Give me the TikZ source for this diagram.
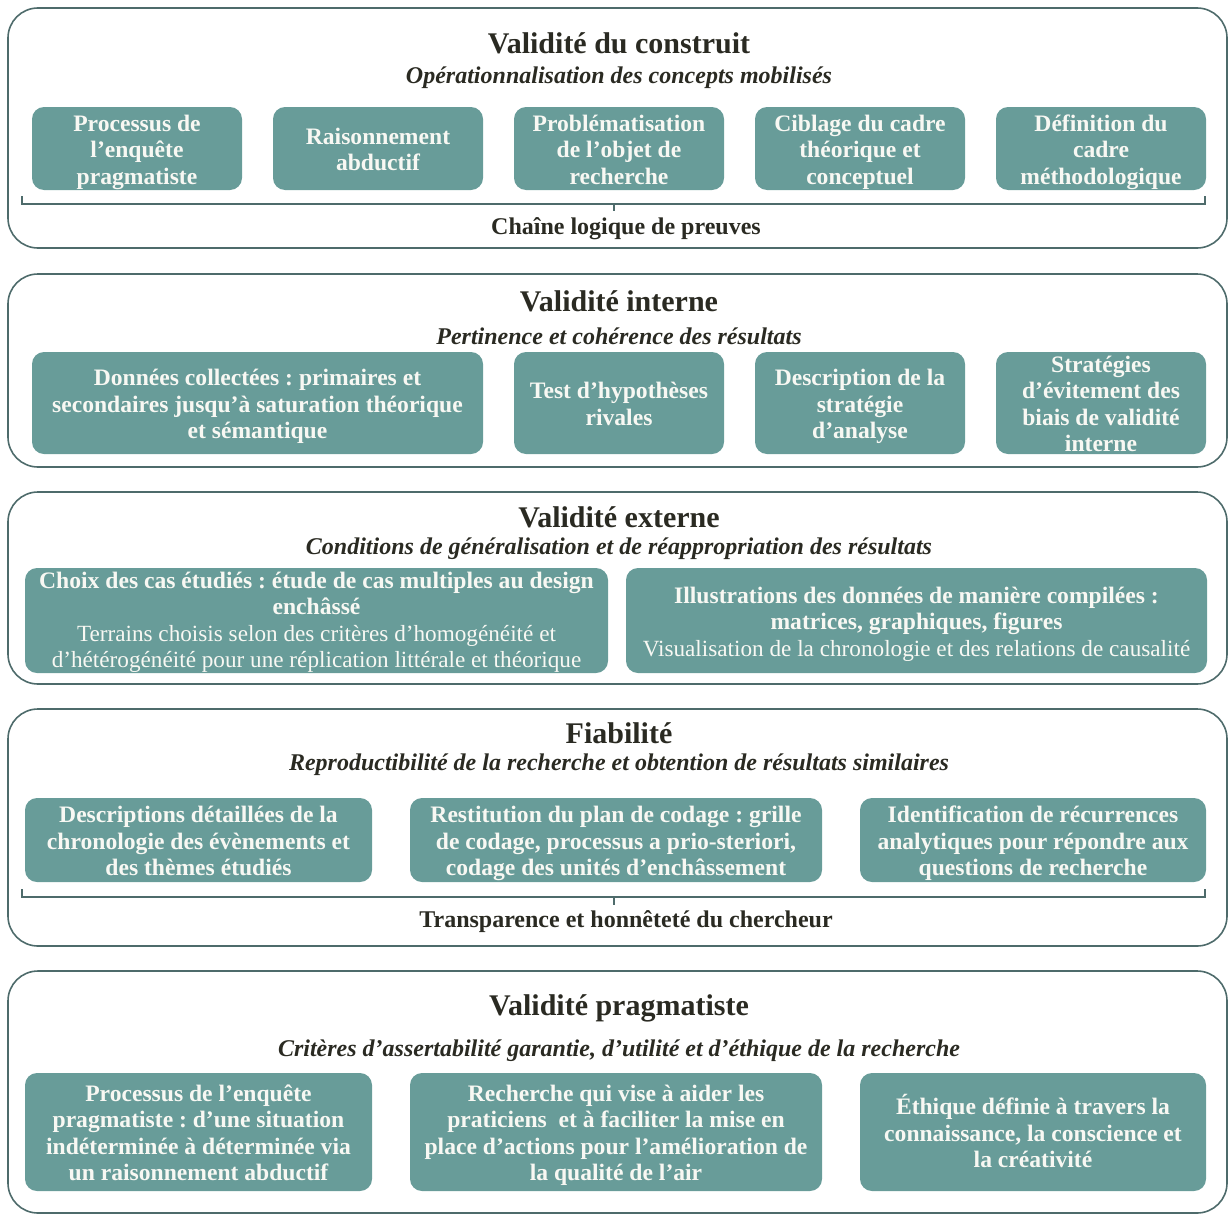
\documentclass[tikz,border=0pt]{standalone}
\usepackage{fontspec}
\setmainfont{Liberation Serif}
\frenchspacing
\definecolor{boxfill}{HTML}{689C99}
\definecolor{framec}{HTML}{4E6B6B}
\definecolor{titlec}{HTML}{2A2A22}
\definecolor{boxtext}{HTML}{F8F8F3}
\newcommand{\tstr}{\rule{0pt}{23.5pt}}
\newcommand{\bstr}{\rule[-5.5pt]{0pt}{5.5pt}}
\newcommand{\tstrs}{\rule{0pt}{20pt}}
\newcommand{\bstrs}{\rule[-2pt]{0pt}{2pt}}
\begin{document}
\begin{tikzpicture}[x=1pt,y=-1pt,
  frame/.style={draw=framec, line width=1.6pt, rounded corners=30pt},
  tbox/.style={fill=boxfill, rounded corners=12pt, text=boxtext, align=center, inner sep=0pt,
    font=\bfseries\fontsize{23.6}{26.5}\selectfont},
  ttl/.style={text=titlec, inner sep=0pt, font=\bfseries\fontsize{30}{34}\selectfont},
  sub/.style={text=titlec, inner sep=0pt, yshift=-3pt, font=\bfseries\itshape\fontsize{24}{28}\selectfont},
  blabel/.style={text=titlec, inner sep=0pt, yshift=-3pt, font=\bfseries\fontsize{24}{28}\selectfont},
  brace/.style={draw=framec, line width=1.2pt}]
\useasboundingbox (0,0) rectangle (1228,1215);
% frames
\draw[frame] (8,8) rectangle (1227,248);
\draw[frame] (8,274) rectangle (1227,467);
\draw[frame] (8,492) rectangle (1227,684);
\draw[frame] (8,709) rectangle (1227,946);
\draw[frame] (8,971) rectangle (1227,1213);

% ---- Section 1
\node[ttl] (t1) at (619,43) {Validité du construit};
\node[sub] (s1) at (619,75) {Opérationnalisation des concepts mobilisés};
\node[tbox, minimum width=210pt, minimum height=83pt] (a1) at (137,148.5) {\tstr Processus de\\l’enquête\\pragmatiste\bstr};
\node[tbox, minimum width=210pt, minimum height=83pt] (a2) at (378,148.5) {\tstr Raisonnement\\abductif\bstr};
\node[tbox, minimum width=210pt, minimum height=83pt] (a3) at (619,148.5) {\tstr Problématisation\\de l’objet de\\recherche\bstr};
\node[tbox, minimum width=210pt, minimum height=83pt] (a4) at (860,148.5) {\tstr Ciblage du cadre\\théorique et\\conceptuel\bstr};
\node[tbox, minimum width=210pt, minimum height=83pt] (a5) at (1101,148.5) {\tstr Définition du\\cadre\\méthodologique\bstr};
\coordinate (b1l) at (22,196);
\coordinate (b1ll) at (22,204);
\coordinate (b1rr) at (1205,204);
\coordinate (b1r) at (1205,196);
\coordinate (b1m) at (614,204);
\coordinate (b1t) at (614,211);
\draw[brace] (b1l) -- (b1ll) -- (b1rr) -- (b1r);
\draw[brace] (b1m) -- (b1t);
\node[blabel] (l1) at (626,226) {Chaîne logique de preuves};

% ---- Section 2
\node[ttl] (t2) at (619,301) {Validité interne};
\node[sub] (s2) at (619,333) {Pertinence et cohérence des résultats};
\node[tbox, minimum width=451pt, minimum height=102pt] (i1) at (257.5,403) {\tstr Données collectées : primaires et\\secondaires jusqu’à saturation théorique\\et sémantique\bstr};
\node[tbox, minimum width=210pt, minimum height=102pt] (i2) at (619,403) {\tstr Test d’hypothèses\\rivales\bstr};
\node[tbox, minimum width=210pt, minimum height=102pt] (i3) at (860,403) {\tstr Description de la\\stratégie\\d’analyse\bstr};
\node[tbox, minimum width=210pt, minimum height=102pt] (i4) at (1101,403) {\tstrs Stratégies\\d’évitement des\\biais de validité\\interne\bstrs};

% ---- Section 3
\node[ttl] (t3) at (619,517) {Validité externe};
\node[sub] (s3) at (619,546) {Conditions de généralisation et de réappropriation des résultats};
\node[tbox, minimum width=583pt, minimum height=105pt] (e1) at (316.5,620.5) {\tstrs Choix des cas étudiés : étude de cas multiples au design\\enchâssé\\{\mdseries\fontsize{23.2}{26.5}\selectfont Terrains choisis selon des critères d’homogénéité et}\\{\mdseries\fontsize{23.2}{26.5}\selectfont d’hétérogénéité pour une réplication littérale et théorique}};
\node[tbox, minimum width=581pt, minimum height=105pt] (e2) at (916.5,620.5) {\tstr Illustrations des données de manière compilées :\\matrices, graphiques, figures\\{\mdseries\fontsize{23.2}{26.5}\selectfont Visualisation de la chronologie et des relations de causalité}\bstr};

% ---- Section 4
\node[ttl] (t4) at (619,733) {Fiabilité};
\node[sub] (s4) at (619,762) {Reproductibilité de la recherche et obtention de résultats similaires};
\node[tbox, minimum width=347pt, minimum height=84pt] (f1) at (198.5,840) {\tstr Descriptions détaillées de la\\chronologie des évènements et\\des thèmes étudiés\bstr};
\node[tbox, minimum width=412pt, minimum height=84pt] (f2) at (616,840) {\tstr Restitution du plan de codage : grille\\de codage, processus a prio-steriori,\\codage des unités d’enchâssement\bstr};
\node[tbox, minimum width=346pt, minimum height=84pt] (f3) at (1033,840) {\tstr Identification de récurrences\\analytiques pour répondre aux\\questions de recherche\bstr};
\coordinate (b4l) at (22,889);
\coordinate (b4ll) at (22,897);
\coordinate (b4rr) at (1205,897);
\coordinate (b4r) at (1205,889);
\coordinate (b4m) at (614,897);
\coordinate (b4t) at (614,905);
\draw[brace] (b4l) -- (b4ll) -- (b4rr) -- (b4r);
\draw[brace] (b4m) -- (b4t);
\node[blabel] (l4) at (626,919) {Transparence et honnêteté du chercheur};

% ---- Section 5
\node[ttl] (t5) at (619,1008) {Validité pragmatiste};
\node[sub] (s5) at (619,1048) {Critères d’assertabilité garantie, d’utilité et d’éthique de la recherche};
\node[tbox, minimum width=347pt, minimum height=118pt] (p1) at (198.5,1132) {\tstr Processus de l’enquête\\pragmatiste : d’une situation\\indéterminée à déterminée via\\un raisonnement abductif\bstr};
\node[tbox, minimum width=412pt, minimum height=118pt] (p2) at (616,1132) {\tstr Recherche qui vise à aider les\\praticiens\ \ et à faciliter la mise en\\place d’actions pour l’amélioration de\\la qualité de l’air\bstr};
\node[tbox, minimum width=346pt, minimum height=118pt] (p3) at (1033,1132) {\tstr Éthique définie à travers la\\connaissance, la conscience et\\la créativité\bstr};
\end{tikzpicture}
\end{document}
